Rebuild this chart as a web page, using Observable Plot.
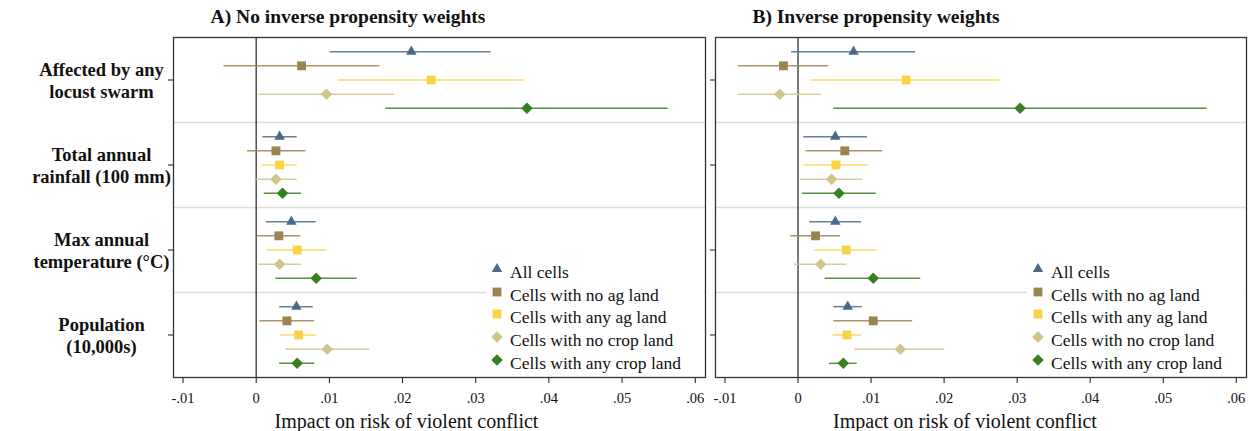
<!DOCTYPE html>
<html>
<head>
<meta charset="utf-8">
<script src="https://cdn.jsdelivr.net/npm/d3@7"></script>
<script src="https://cdn.jsdelivr.net/npm/@observablehq/plot@0.6"></script>
<style>
  body { margin: 0; background: #fff; font-family: "Liberation Serif", serif; color: #111; }
  #wrap { position: relative; width: 1256px; height: 431px; overflow: hidden; }
  .title { position: absolute; top: 0; height: 30px; line-height: 34px; font-weight: bold; font-size: 19.5px; white-space: nowrap; transform: translateX(-50%); }
  .panel { position: absolute; top: 30px; }
  .legend { position: absolute; background: #fff; }
  .row { position: absolute; left: 0; height: 22px; line-height: 22px; font-size: 17.5px; white-space: nowrap; }
  .row svg { position: absolute; left: 4px; top: 1px; }
  .row span { position: absolute; left: 24px; top: 0; }
</style>
</head>
<body>
<div id="wrap"></div>
<script>
// Outcomes (one block per outcome) and the five sub-samples
const outcomes = [
  "Affected by any\nlocust swarm",
  "Total annual\nrainfall (100 mm)",
  "Max annual\ntemperature (°C)",
  "Population\n(10,000s)"
];
const samples = [
  "All cells",
  "Cells with no ag land",
  "Cells with any ag land",
  "Cells with no crop land",
  "Cells with any crop land"
];
const xTicks = [-0.01, 0, 0.01, 0.02, 0.03, 0.04, 0.05, 0.06];

// A) No inverse propensity weights: point estimates and 95% CI bounds
const estA = [
  [0.0212, 0.0062, 0.0239, 0.0096, 0.0370],
  [0.0032, 0.0027, 0.0032, 0.0027, 0.0036],
  [0.0048, 0.0031, 0.0056, 0.0032, 0.0082],
  [0.0055, 0.0042, 0.0058, 0.0097, 0.0056]
];
const loA = [
  [0.0101, -0.0044, 0.0113, 0.0004, 0.0177],
  [0.0009, -0.0012, 0.0009, -0.0002, 0.0011],
  [0.0014, 0.0001, 0.0015, 0.0003, 0.0027],
  [0.0032, 0.0005, 0.0033, 0.0040, 0.0032]
];
const hiA = [
  [0.0321, 0.0169, 0.0367, 0.0189, 0.0563],
  [0.0056, 0.0068, 0.0056, 0.0056, 0.0062],
  [0.0082, 0.0061, 0.0097, 0.0062, 0.0138],
  [0.0078, 0.0080, 0.0082, 0.0155, 0.0080]
];

// B) Inverse propensity weights
const estB = [
  [0.0076, -0.0020, 0.0148, -0.0025, 0.0304],
  [0.0051, 0.0064, 0.0052, 0.0046, 0.0056],
  [0.0051, 0.0024, 0.0066, 0.0031, 0.0103],
  [0.0068, 0.0103, 0.0067, 0.0140, 0.0062]
];
const loB = [
  [-0.0009, -0.0082, 0.0018, -0.0082, 0.0049],
  [0.0008, 0.0011, 0.0008, 0.0003, 0.0006],
  [0.0016, -0.0010, 0.0023, -0.0005, 0.0037],
  [0.0049, 0.0049, 0.0048, 0.0078, 0.0043]
];
const hiB = [
  [0.0161, 0.0042, 0.0277, 0.0032, 0.0560],
  [0.0095, 0.0116, 0.0096, 0.0089, 0.0107],
  [0.0087, 0.0058, 0.0108, 0.0067, 0.0168],
  [0.0088, 0.0157, 0.0087, 0.0201, 0.0081]
];

// Marker styling per sub-sample
const sampleColors = ["#4a6888", "#9a8550", "#f8d347", "#cfc48a", "#37801f"];
const sampleSymbols = ["triangle", "square", "square", "diamond2", "diamond2"];
const symbolRadius = [3.9, 5, 5, 5.2, 5.2];
const d3Symbols = {triangle: d3.symbolTriangle, square: d3.symbolSquare, diamond2: d3.symbolDiamond2};

// Each outcome occupies six slots on y; the five estimates fill slots 1..5
function rows(est, lo, hi) {
  return outcomes.flatMap((o, g) => samples.map((s, k) => ({
    outcome: o, sample: s, k, est: est[g][k], lo: lo[g][k], hi: hi[g][k], slot: g * 6 + k + 1
  })));
}

const fmt = d => d === 0 ? "0" : d.toFixed(2).replace(/^(-?)0\./, "$1.");

function panel(data, {width, marginLeft, marginRight, showLabels, labelShift}) {
  return Plot.plot({
    width, height: 401,
    marginTop: 7, marginBottom: 54, marginLeft, marginRight,
    style: {fontFamily: "Liberation Serif, serif", fontSize: "15px", color: "#111", background: "transparent"},
    x: {domain: [-0.0113, 0.0614]},
    y: {domain: [0, 24], reverse: true},
    color: {domain: samples, range: sampleColors},
    marks: [
      Plot.ruleY([6, 12, 18], {stroke: "#dcdcdc", strokeWidth: 1.5}),
      Plot.ruleX([0], {stroke: "#333", strokeWidth: 1.3}),
      Plot.ruleY(data, {y: "slot", x1: "lo", x2: "hi", stroke: "sample", strokeWidth: 1.5, strokeOpacity: 0.85}),
      ...samples.map((s, k) => Plot.dot(data.filter(d => d.k === k), {
        x: "est", y: "slot", fill: "sample", symbol: sampleSymbols[k], r: symbolRadius[k]
      })),
      Plot.axisX({ticks: xTicks, tickFormat: fmt, tickSize: 6, tickPadding: 9, fontSize: 14.5, label: null}),
      Plot.axisY({
        ticks: [3, 9, 15, 21], tickSize: 5, tickPadding: 67,
        tickFormat: showLabels ? (d => outcomes[(d - 3) / 6]) : (() => ""),
        textAnchor: "middle", fontWeight: "bold", fontSize: 18.5, lineHeight: 1.19, label: null
      }),
      Plot.text(["Impact on risk of violent conflict"], {
        text: d => d, frameAnchor: "bottom", dy: 44, dx: labelShift, fontSize: 20, lineAnchor: "middle"
      }),
      Plot.frame({stroke: "#333", strokeWidth: 1.3})
    ]
  });
}

function legend(left) {
  const box = document.createElement("div");
  box.className = "legend";
  Object.assign(box.style, {left: left + "px", top: "258px", width: "218px", height: "118px"});
  samples.forEach((s, k) => {
    const row = document.createElement("div");
    row.className = "row";
    row.style.top = (3 + k * 22.7) + "px";
    const size = symbolRadius[k] * symbolRadius[k] * Math.PI;
    const path = d3.symbol(d3Symbols[sampleSymbols[k]], size)();
    row.innerHTML = `<svg width="14" height="14" viewBox="-7 -7 14 14"><path d="${path}" fill="${sampleColors[k]}"/></svg><span>${s}</span>`;
    box.appendChild(row);
  });
  return box;
}

const wrap = document.getElementById("wrap");

const titleA = document.createElement("div");
titleA.className = "title"; titleA.style.left = "348px";
titleA.textContent = "A) No inverse propensity weights";
const titleB = document.createElement("div");
titleB.className = "title"; titleB.style.left = "876px";
titleB.textContent = "B) Inverse propensity weights";
wrap.append(titleA, titleB);

const left = panel(rows(estA, loA, hiA), {width: 710, marginLeft: 173, marginRight: 5, showLabels: true, labelShift: -33});
left.classList.add("panel"); left.style.left = "0px";
const right = panel(rows(estB, loB, hiB), {width: 546, marginLeft: 5, marginRight: 10, showLabels: false, labelShift: -16});
right.classList.add("panel"); right.style.left = "710px";
wrap.append(left, right);

wrap.append(legend(486), legend(1027));
</script>
</body>
</html>
